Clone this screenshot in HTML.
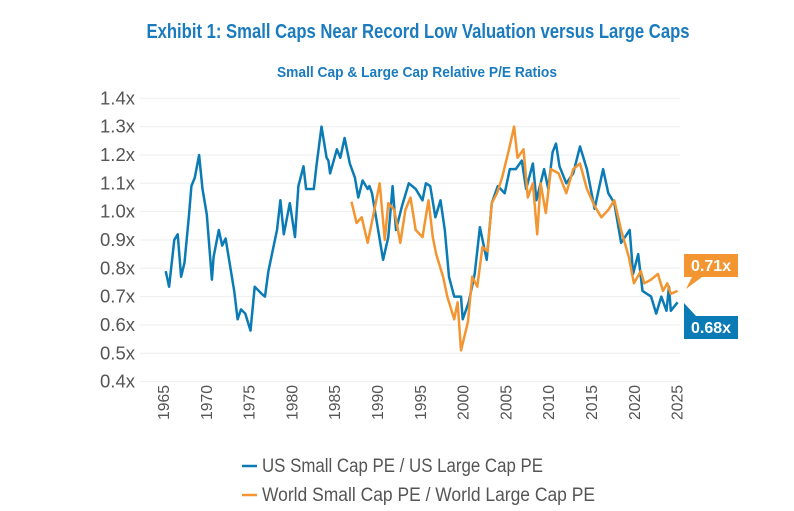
<!DOCTYPE html>
<html><head><meta charset="utf-8"><style>
body{margin:0;background:#fff;}
svg{display:block;font-family:"Liberation Sans",sans-serif;}
</style></head><body>
<svg id="chart" width="794" height="511">
<text x="418" y="38" text-anchor="middle" fill="#1a7bbf" font-weight="bold" font-size="20" textLength="543" lengthAdjust="spacingAndGlyphs">Exhibit 1: Small Caps Near Record Low Valuation versus Large Caps</text>
<text x="417" y="77" text-anchor="middle" fill="#1a7bbf" font-weight="bold" font-size="15" textLength="280" lengthAdjust="spacingAndGlyphs">Small Cap &amp; Large Cap Relative P/E Ratios</text>
<g id="grid"></g><g id="yticks"></g><g id="xticks"></g><g id="series"></g>
<g>
<polygon points="684,254 738,254 738,277 702,277 686,289 692,277 684,277" fill="#f39530"/>
<text x="711" y="271" text-anchor="middle" fill="#fff" font-weight="bold" font-size="16">0.71x</text>
</g>
<g>
<polygon points="684,303 696,316 738,316 738,339 684,339" fill="#0a7bb5"/>
<text x="711" y="333" text-anchor="middle" fill="#fff" font-weight="bold" font-size="16">0.68x</text>
</g>
<g>
<line x1="242" y1="466" x2="257" y2="466" stroke="#0a7bb5" stroke-width="2.5"/>
<text x="262" y="472" fill="#555" font-size="19" textLength="281" lengthAdjust="spacingAndGlyphs">US Small Cap PE / US Large Cap PE</text>
</g>
<g>
<line x1="242" y1="495" x2="257" y2="495" stroke="#f39530" stroke-width="2.5"/>
<text x="262" y="501" fill="#555" font-size="19" textLength="333" lengthAdjust="spacingAndGlyphs">World Small Cap PE / World Large Cap PE</text>
</g>
</svg>
<script>
const yTicks=[1.4,1.3,1.2,1.1,1.0,0.9,0.8,0.7,0.6,0.5,0.4];
const yTickLabels=["1.4x","1.3x","1.2x","1.1x","1.0x","0.9x","0.8x","0.7x","0.6x","0.5x","0.4x"];
const xTicks=[1965,1970,1975,1980,1985,1990,1995,2000,2005,2010,2015,2020,2025];
const usYears=[1965.2,1965.6,1966.2,1966.6,1967,1967.4,1967.9,1968.2,1968.6,1969.1,1969.5,1970,1970.6,1970.8,1971.4,1971.8,1972.2,1973.2,1973.6,1974,1974.5,1975.1,1975.6,1976.4,1976.8,1977.2,1978.2,1978.6,1979,1979.7,1980.3,1980.7,1981.3,1981.6,1982.5,1982.8,1983.4,1984,1984.2,1984.4,1985.2,1985.6,1986.1,1986.7,1987.3,1987.7,1988.2,1988.8,1989,1989.3,1990.6,1991.2,1991.7,1992.1,1992.8,1993.6,1994.4,1995.2,1995.6,1996.1,1996.7,1997.3,1997.8,1998.3,1998.9,1999.7,1999.9,2000.6,2001.3,2001.9,2002.7,2003.3,2004,2004.8,2005.4,2006.1,2006.8,2007.3,2008.1,2008.5,2009.4,2009.9,2010.4,2010.8,2011.2,2012,2012.8,2013.6,2014.4,2015.3,2016.3,2016.9,2017.6,2018.4,2019.4,2019.8,2020.4,2020.9,2021.9,2022.5,2023.1,2023.7,2024,2024.2,2025];
const usValues=[0.79,0.735,0.9,0.92,0.77,0.82,0.98,1.09,1.12,1.2,1.08,0.99,0.76,0.84,0.935,0.88,0.905,0.72,0.62,0.655,0.64,0.58,0.735,0.71,0.70,0.79,0.935,1.04,0.92,1.03,0.91,1.09,1.16,1.08,1.08,1.16,1.30,1.19,1.18,1.135,1.22,1.19,1.26,1.17,1.12,1.05,1.11,1.08,1.09,1.065,0.83,0.91,1.09,0.935,1.02,1.10,1.08,1.04,1.10,1.09,0.98,1.04,0.935,0.77,0.70,0.70,0.62,0.68,0.78,0.945,0.83,1.03,1.09,1.065,1.15,1.15,1.18,1.08,1.17,1.04,1.15,1.08,1.21,1.24,1.16,1.10,1.135,1.23,1.15,1.01,1.15,1.065,1.03,0.89,0.935,0.78,0.85,0.72,0.70,0.64,0.70,0.65,0.735,0.65,0.68];
const worldYears=[1986.9,1987.5,1988.1,1988.8,1989.4,1990.2,1990.8,1991.2,1991.9,1992.6,1993.2,1993.8,1994.4,1995.2,1995.9,1996.4,1996.8,1997.6,1998.1,1998.9,1999.3,1999.7,2000.5,2001,2001.6,2002.2,2002.8,2003.3,2003.9,2004.5,2005.3,2005.9,2006.3,2007,2007.5,2008.1,2008.6,2009,2009.6,2010.2,2011.1,2012,2012.8,2013.6,2014.4,2015.3,2016.1,2016.9,2017.6,2018.4,2019.3,2019.9,2020.7,2021.1,2021.9,2022.7,2023.3,2023.8,2024.2,2025];
const worldValues=[1.035,0.96,0.98,0.89,0.98,1.10,0.90,1.03,1.006,0.89,1.006,1.05,0.935,0.91,1.04,0.91,0.85,0.77,0.70,0.62,0.68,0.51,0.61,0.77,0.735,0.875,0.86,1.03,1.065,1.12,1.22,1.30,1.19,1.22,1.05,1.10,0.92,1.10,0.995,1.15,1.135,1.065,1.15,1.17,1.08,1.02,0.98,1.006,1.04,0.935,0.84,0.747,0.79,0.747,0.76,0.78,0.72,0.747,0.71,0.72];
const NS="http://www.w3.org/2000/svg";
const X=y=>164+(y-1965)*8.56;
const Y=v=>98.3+(1.4-v)*283.3;
function mk(tag,attrs,parent){const e=document.createElementNS(NS,tag);for(const k in attrs)e.setAttribute(k,attrs[k]);parent.appendChild(e);return e;}
const grid=document.getElementById('grid'),yt=document.getElementById('yticks'),xt=document.getElementById('xticks'),ser=document.getElementById('series');
yTicks.forEach((v,i)=>{
  const l=mk('line',{x1:140,x2:680,y1:Y(v),y2:Y(v),stroke:'#eeeeee','stroke-width':1},grid);
  
  
  const t=mk('text',{x:100,y:Y(v)+6,'font-size':18,fill:'#555',textLength:35,lengthAdjust:'spacingAndGlyphs'},yt);
  t.textContent=yTickLabels[i];
  
  
});
xTicks.forEach(yr=>{
  const t=mk('text',{transform:`translate(${X(yr)+5},420) rotate(-90)`,'font-size':16,fill:'#555',textLength:35,lengthAdjust:'spacingAndGlyphs'},xt);
  t.textContent=yr;
  
  
});
function line(xs,vs,color,name){
  const d=xs.map((x,i)=>(i?'L':'M')+X(x).toFixed(1)+','+Y(vs[i]).toFixed(1)).join('');
  const p=mk('path',{d:d,fill:'none',stroke:color,'stroke-width':2.5,'stroke-linejoin':'round'},ser);
  
  
}
line(usYears,usValues,'#0a7bb5','us-series-line');
line(worldYears,worldValues,'#f39530','world-series-line');
</script>
</body></html>
